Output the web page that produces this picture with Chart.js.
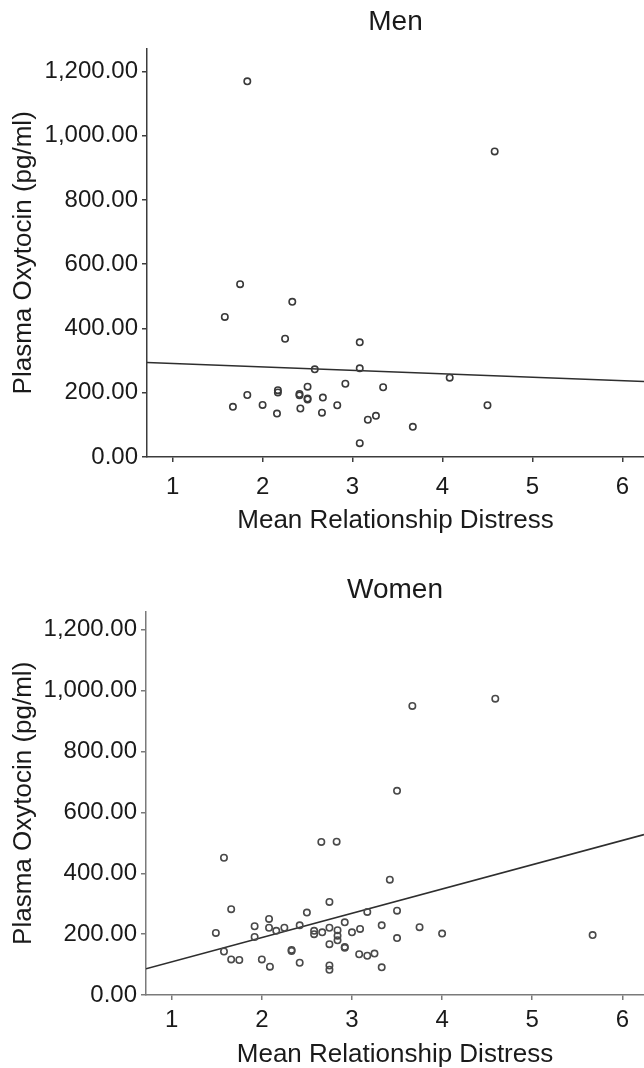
<!DOCTYPE html>
<html>
<head>
<meta charset="utf-8">
<script src="https://cdn.jsdelivr.net/npm/chart.js@4.4.0/dist/chart.umd.min.js"></script>
<style>
  html, body { margin: 0; padding: 0; background: #fff; overflow: hidden; }
  .wrap { position: absolute; left: 0; width: 644px; height: 534px; }
  #menWrap { top: 0; }
  #womenWrap { top: 534px; }
</style>
</head>
<body>
<div class="wrap" id="menWrap"><canvas id="menChart" width="644" height="534"></canvas></div>
<div class="wrap" id="womenWrap"><canvas id="womenChart" width="644" height="534"></canvas></div>
<script>
  // Axis ticks
  const xTicks = [1, 2, 3, 4, 5, 6];
  const yTicks = [0, 200, 400, 600, 800, 1000, 1200];

  // Men: mean relationship distress vs plasma oxytocin
  const menX = [1.83, 4.58, 1.75, 1.58, 2.33, 2.25, 3.08, 2.58, 3.08, 3.34, 2.92, 2.50, 2.17, 2.17, 1.83, 2.41,
                2.41, 2.50, 2.50, 2.67, 1.67, 2.00, 2.16, 2.42, 2.66, 2.83, 3.17, 3.26, 3.08, 4.08, 4.50, 3.67];
  const menY = [1169, 951, 538, 436, 483, 368, 357, 273, 276, 217, 228, 219, 208, 201, 193, 196,
                192, 182, 179, 185, 156, 162, 135, 151, 138, 161, 116, 128, 43, 247, 161, 94];
  const menFit = [301.6, -10.7]; // intercept, slope

  // Women
  const womenX = [3.67, 4.59, 1.58, 2.66, 2.83, 3.50, 3.42, 3.50, 3.75, 3.50, 4.00, 5.67, 3.33,
                  2.75, 1.66, 2.50, 3.17, 1.49, 1.92, 2.08, 2.08, 2.16, 2.25, 2.42, 1.92, 2.58, 2.58,
                  2.67, 2.75, 2.84, 2.84, 2.84, 2.92, 3.00, 3.09, 3.33, 2.75, 2.92, 2.92, 1.58, 1.66,
                  1.75, 2.00, 2.09, 2.33, 2.33, 2.42, 2.75, 2.75, 3.08, 3.17, 3.25];
  const womenY = [950, 974, 451, 503, 504, 671, 379, 277, 223, 187, 202, 197, 91,
                  306, 282, 271, 273, 204, 226, 250, 221, 211, 221, 229, 191, 211, 200,
                  206, 221, 213, 195, 180, 239, 206, 217, 229, 167, 158, 155, 143, 117,
                  115, 117, 93, 148, 145, 106, 97, 83, 134, 129, 136];
  const womenFit = [29.1, 79.8];

  const FONT = "'Liberation Sans', Arial, Helvetica, sans-serif";
  const X_MIN = 0.715;
  const X_MAX = 6.24;

  function makeChart(id, cfg) {
    const points = cfg.xs.map((x, i) => ({ x: x, y: cfg.ys[i] }));
    const fitLine = [X_MIN, X_MAX].map(x => ({ x: x, y: cfg.fit[0] + cfg.fit[1] * x }));

    return new Chart(document.getElementById(id), {
      type: 'scatter',
      data: {
        datasets: [
          {
            type: 'line',
            data: fitLine,
            borderColor: '#2e2e2e',
            borderWidth: 1.6,
            pointRadius: 0,
            fill: false,
            order: 2
          },
          {
            data: points,
            pointStyle: 'circle',
            pointRadius: 3.2,
            borderWidth: 1.6,
            borderColor: cfg.pointColor,
            backgroundColor: 'rgba(255,255,255,0)',
            order: 1
          }
        ]
      },
      options: {
        responsive: false,
        animation: false,
        devicePixelRatio: 1,
        layout: { padding: 0, autoPadding: false },
        plugins: {
          legend: { display: false },
          tooltip: { enabled: false },
          title: {
            display: true,
            text: cfg.title,
            fullSize: false,
            color: '#1a1a1a',
            font: { family: FONT, size: 28, weight: 'normal', lineHeight: 1.2 },
            padding: cfg.titlePad
          }
        },
        scales: {
          x: {
            type: 'linear',
            min: X_MIN,
            max: X_MAX,
            afterBuildTicks: s => { s.ticks = xTicks.map(v => ({ value: v })); },
            afterFit: s => { s.height = cfg.xHeight; },
            grid: { display: true, drawOnChartArea: false, drawTicks: true, tickLength: 5, lineWidth: 1.5, color: cfg.axisColor },
            border: { display: true, color: cfg.axisColor, width: 1.5 },
            ticks: {
              color: '#1a1a1a',
              padding: cfg.xTickPad,
              maxRotation: 0,
              font: { family: FONT, size: 24 },
              callback: v => String(v)
            },
            title: {
              display: true,
              text: 'Mean Relationship Distress',
              color: '#1a1a1a',
              font: { family: FONT, size: 26, lineHeight: 1.15 },
              padding: { top: 0, bottom: cfg.xTitlePad }
            }
          },
          y: {
            type: 'linear',
            min: 0,
            max: cfg.yMax,
            afterBuildTicks: s => { s.ticks = yTicks.map(v => ({ value: v })); },
            afterFit: s => { s.width = cfg.yWidth; },
            grid: { display: true, drawOnChartArea: false, drawTicks: true, tickLength: 5, lineWidth: 1.5, color: cfg.axisColor },
            border: { display: true, color: cfg.axisColor, width: 1.5 },
            ticks: {
              color: '#1a1a1a',
              padding: 4,
              font: { family: FONT, size: 24 },
              callback: v => v.toLocaleString('en-US', { minimumFractionDigits: 2, maximumFractionDigits: 2 })
            },
            title: {
              display: true,
              text: 'Plasma Oxytocin (pg/ml)',
              color: '#1a1a1a',
              font: { family: FONT, size: 26, lineHeight: 1.15 },
              padding: { top: 9, bottom: 0 }
            }
          }
        }
      }
    });
  }

  makeChart('menChart', {
    title: 'Men', xs: menX, ys: menY, fit: menFit,
    yMax: 1271, yWidth: 147, xHeight: 77,
    titlePad: { top: 5, bottom: 10 },
    xTickPad: 11, xTitlePad: -2,
    axisColor: '#3c3c3c', pointColor: '#3a3a3a'
  });

  makeChart('womenChart', {
    title: 'Women', xs: womenX, ys: womenY, fit: womenFit,
    yMax: 1260, yWidth: 146, xHeight: 73,
    titlePad: { top: 39, bottom: 5 },
    xTickPad: 6, xTitlePad: -2,
    axisColor: '#7a7a7a', pointColor: '#4a4a4a'
  });
</script>
</body>
</html>
